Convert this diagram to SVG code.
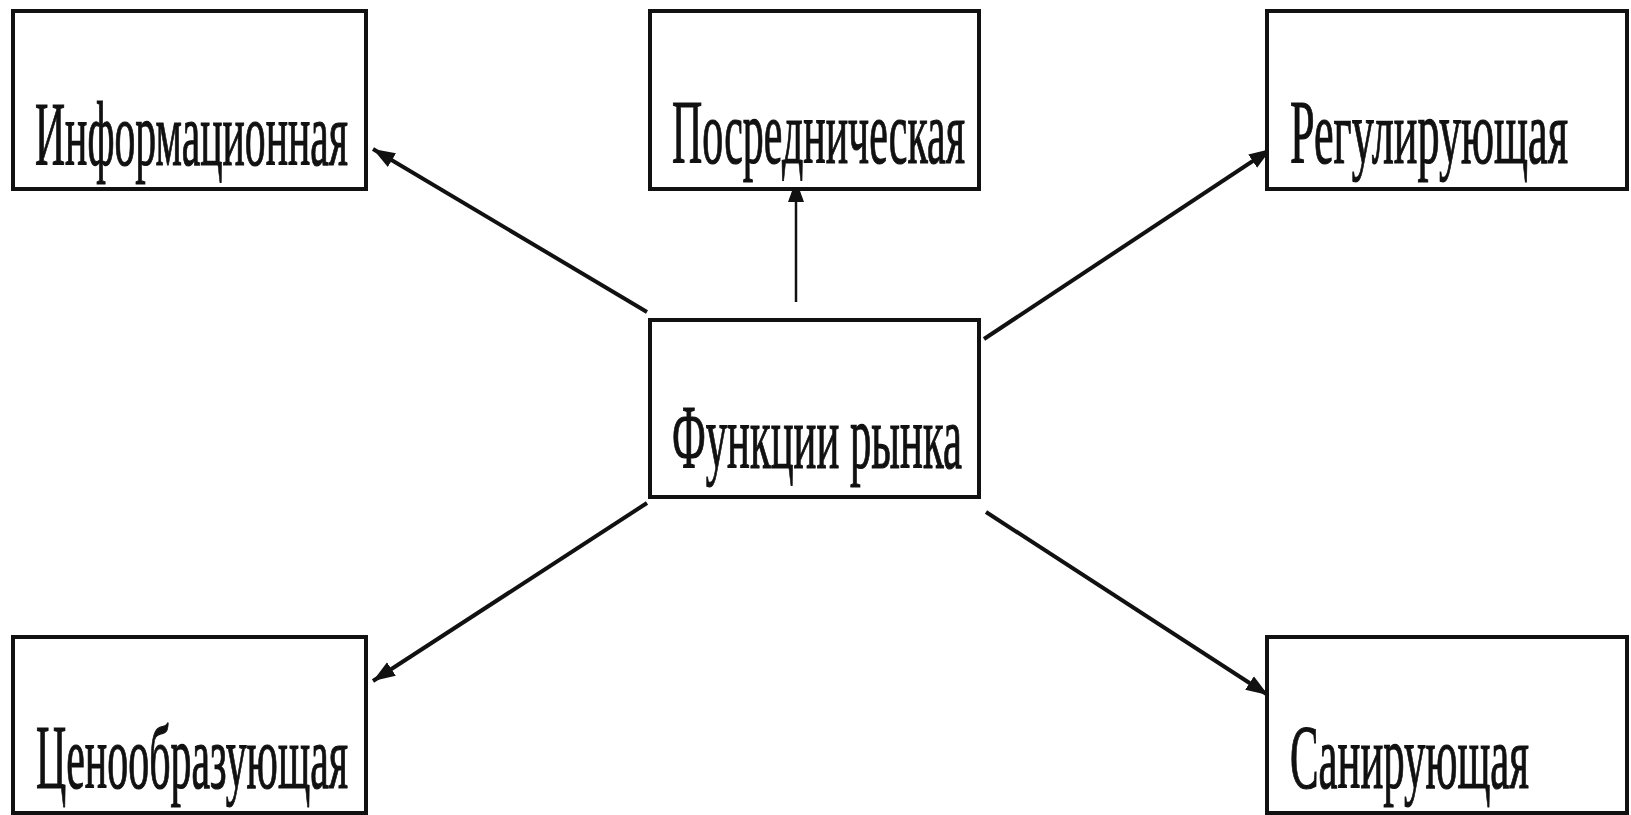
<svg xmlns="http://www.w3.org/2000/svg" width="1631" height="815" viewBox="0 0 1631 815">
  <style>
    .box { fill: #ffffff; stroke: #111111; stroke-width: 4; }
    .lbl { font-family: "Liberation Serif", "Times New Roman", serif; font-size: 90px; fill: #111111; stroke: #111111; stroke-width: 1.2; }
    .edge { stroke: #111111; stroke-width: 4; fill: none; marker-end: url(#arrow); }
    .edge-thin { stroke: #111111; stroke-width: 2.5; fill: none; marker-end: url(#arrow); }
  </style>
  <defs>
    <marker id="arrow" markerUnits="userSpaceOnUse" markerWidth="24" markerHeight="18" refX="22" refY="9" orient="auto">
      <path d="M0,1 L22,9 L0,17 Z" fill="#111111"/>
    </marker>
  </defs>
  <rect width="1631" height="815" fill="#ffffff"/>

  <!-- connectors from the central node -->
  <g id="connectors">
    <line class="edge" x1="647" y1="312" x2="373" y2="149"/>
    <line class="edge-thin" x1="796" y1="302" x2="796" y2="180"/>
    <line class="edge" x1="984" y1="339" x2="1271" y2="149"/>
    <line class="edge" x1="647" y1="503" x2="373" y2="681"/>
    <line class="edge" x1="986" y1="512" x2="1268" y2="695"/>
  </g>

  <!-- labels are set in a horizontally condensed serif (x scaled by 0.5) -->
  <g id="node-info">
    <rect class="box" x="13" y="11" width="353" height="178"/>
    <g transform="translate(35,165) scale(0.5,1)">
      <text class="lbl" x="0" y="0" textLength="626" lengthAdjust="spacingAndGlyphs">Информационная</text>
    </g>
  </g>
  <g id="node-mediator">
    <rect class="box" x="650" y="11" width="329" height="178"/>
    <g transform="translate(672,163) scale(0.5,1)">
      <text class="lbl" x="0" y="0" textLength="586" lengthAdjust="spacingAndGlyphs">Посредническая</text>
    </g>
  </g>
  <g id="node-regulating">
    <rect class="box" x="1267" y="11" width="360" height="178"/>
    <g transform="translate(1290,163) scale(0.5,1)">
      <text class="lbl" x="0" y="0" textLength="556" lengthAdjust="spacingAndGlyphs">Регулирующая</text>
    </g>
  </g>
  <g id="node-center">
    <rect class="box" x="650" y="320" width="329" height="177"/>
    <g transform="translate(672,468) scale(0.5,1)">
      <text class="lbl" x="0" y="0" textLength="580" lengthAdjust="spacingAndGlyphs">Функции рынка</text>
    </g>
  </g>
  <g id="node-pricing">
    <rect class="box" x="13" y="637" width="353" height="176"/>
    <g transform="translate(36,788) scale(0.5,1)">
      <text class="lbl" x="0" y="0" textLength="624" lengthAdjust="spacingAndGlyphs">Ценообразующая</text>
    </g>
  </g>
  <g id="node-sanitizing">
    <rect class="box" x="1267" y="637" width="360" height="176"/>
    <g transform="translate(1290,788) scale(0.5,1)">
      <text class="lbl" x="0" y="0" textLength="478" lengthAdjust="spacingAndGlyphs">Санирующая</text>
    </g>
  </g>
</svg>
